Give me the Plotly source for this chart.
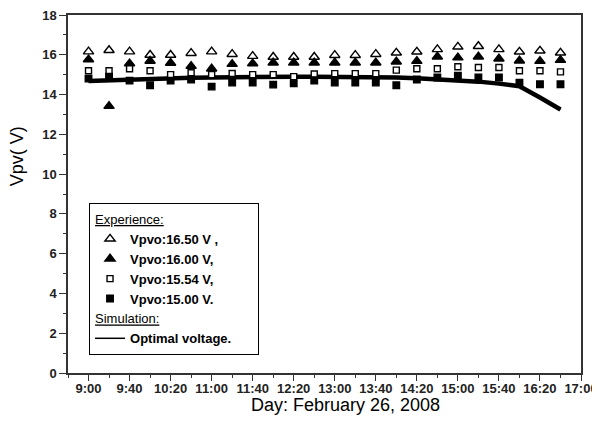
import plotly.graph_objects as go

# measurement times (every 20 minutes)
times = ['9:00', '9:20', '9:40', '10:00', '10:20', '10:40', '11:00', '11:20',
         '11:40', '12:00', '12:20', '12:40', '13:00', '13:20', '13:40', '14:00',
         '14:20', '14:40', '15:00', '15:20', '15:40', '16:00', '16:20', '16:40']

# Experience
v_1650 = [16.16, 16.23, 16.16, 15.99, 15.99, 16.08, 16.16, 16.03, 15.93, 15.89, 15.89, 15.89,
          15.98, 15.98, 16.03, 16.10, 16.15, 16.27, 16.40, 16.43, 16.27, 16.15, 16.20, 16.10]
v_1600 = [15.76, 13.42, 15.56, 15.69, 15.59, 15.43, 15.30, 15.53, 15.56, 15.60, 15.60, 15.60,
          15.60, 15.60, 15.60, 15.65, 15.68, 15.90, 15.86, 15.90, 15.80, 15.70, 15.68, 15.73]
v_1554 = [15.20, 15.20, 15.30, 15.20, 15.00, 15.10, 15.00, 15.06, 15.00, 15.00, 14.90, 15.03,
          15.05, 15.05, 15.05, 15.23, 15.30, 15.30, 15.40, 15.36, 15.36, 15.20, 15.20, 15.14]
v_1500 = [14.80, 14.90, 14.70, 14.47, 14.70, 14.75, 14.40, 14.60, 14.60, 14.50, 14.56, 14.70,
          14.60, 14.60, 14.60, 14.47, 14.76, 14.86, 14.95, 14.86, 14.86, 14.60, 14.52, 14.52]

# Simulation
v_optimal = [14.68, 14.72, 14.75, 14.78, 14.82, 14.84, 14.86, 14.88, 14.90, 14.90, 14.90, 14.90,
             14.90, 14.90, 14.88, 14.86, 14.82, 14.77, 14.72, 14.65, 14.55, 14.42, 13.85, 13.25]

tick_labels = ['9:00', '9:40', '10:20', '11:00', '11:40', '12:20', '13:00',
               '13:40', '14:20', '15:00', '15:40', '16:20', '17:00']


def to_min(t):
    h, m = t.split(':')
    return int(h) * 60 + int(m)


x = [to_min(t) for t in times]
tickvals = [to_min(t) for t in tick_labels]

fig = go.Figure()

# thin copy of the simulation, only used for the legend key
fig.add_trace(go.Scatter(
    x=x, y=v_optimal, mode='lines', name='Optimal voltage.\u00a0\u00a0\u00a0\u00a0\u00a0\u00a0',
    line=dict(color='black', width=1.5),
    legendgroup='sim', legendrank=10,
    legendgrouptitle=dict(text='<u>Simulation:</u>', font=dict(size=13, weight='normal'))
))

# thick simulation line (drawn under the markers)
fig.add_trace(go.Scatter(
    x=x, y=v_optimal, mode='lines',
    line=dict(color='black', width=4.5),
    showlegend=False, hoverinfo='skip'
))

markers = [
    ('Vpvo:16.50 V ,', v_1650, 'triangle-up', 'white', 9),
    ('Vpvo:16.00 V,', v_1600, 'triangle-up', 'black', 9),
    ('Vpvo:15.54 V,', v_1554, 'square', 'white', 6),
    ('Vpvo:15.00 V.', v_1500, 'square', 'black', 6.5),
]
for i, (name, vals, sym, fill, size) in enumerate(markers):
    fig.add_trace(go.Scatter(
        x=x, y=vals, mode='markers', name=name,
        marker=dict(symbol=sym, color=fill, size=size,
                    line=dict(color='black', width=1.4)),
        legendgroup='exp', legendrank=i + 1,
        legendgrouptitle=dict(text='<u>Experience:</u>', font=dict(size=13, weight='normal')) if i == 0 else None
    ))

axis_col = '#333333'
fig.update_xaxes(
    range=[520, 1020], tickmode='array', tickvals=tickvals, ticktext=tick_labels,
    ticks='outside', ticklen=6, tickwidth=1.2, tickcolor=axis_col, ticklabelstandoff=-3,
    ticklabeloverflow='allow',
    minor=dict(ticks='outside', ticklen=3, dtick=20, tick0=520, tickcolor=axis_col),
    showline=True, linecolor=axis_col, linewidth=1.5, mirror=True,
    showgrid=False, zeroline=False, automargin=False,
    tickfont=dict(size=13, weight='bold', color='#222222')
)
fig.update_yaxes(
    range=[0, 18], dtick=2, tick0=0,
    ticks='outside', ticklen=7, tickwidth=1.2, tickcolor=axis_col,
    ticklabeloverflow='allow',
    minor=dict(ticks='outside', ticklen=3.5, dtick=1, tickcolor=axis_col),
    showline=True, linecolor=axis_col, linewidth=1.5, mirror=True,
    showgrid=False, zeroline=False, automargin=False,
    tickfont=dict(size=13, weight='bold', color='#222222')
)

# the page adds an 8px body margin, so the figure is 8px smaller on each axis
fig.update_layout(
    width=592, height=423,
    margin=dict(l=60, r=19, t=7, b=58),
    plot_bgcolor='white', paper_bgcolor='white',
    font=dict(family='Liberation Sans, Arial, sans-serif', color='black'),
    legend=dict(
        x=0.041, y=0.475, xanchor='left', yanchor='top',
        bordercolor='black', borderwidth=1, bgcolor='white',
        font=dict(size=13, weight='bold'), tracegroupgap=0,
        traceorder='grouped'
    ),
    annotations=[
        dict(text='Vpv( V)', textangle=-90, xref='paper', yref='paper',
             x=-0.099, y=0.606, xanchor='center', yanchor='middle',
             showarrow=False, font=dict(size=18)),
        dict(text='Day: February 26, 2008', xref='paper', yref='paper',
             x=0.54, y=-0.09, xanchor='center', yanchor='middle',
             showarrow=False, font=dict(size=18)),
    ]
)

fig.write_html('out.html')
